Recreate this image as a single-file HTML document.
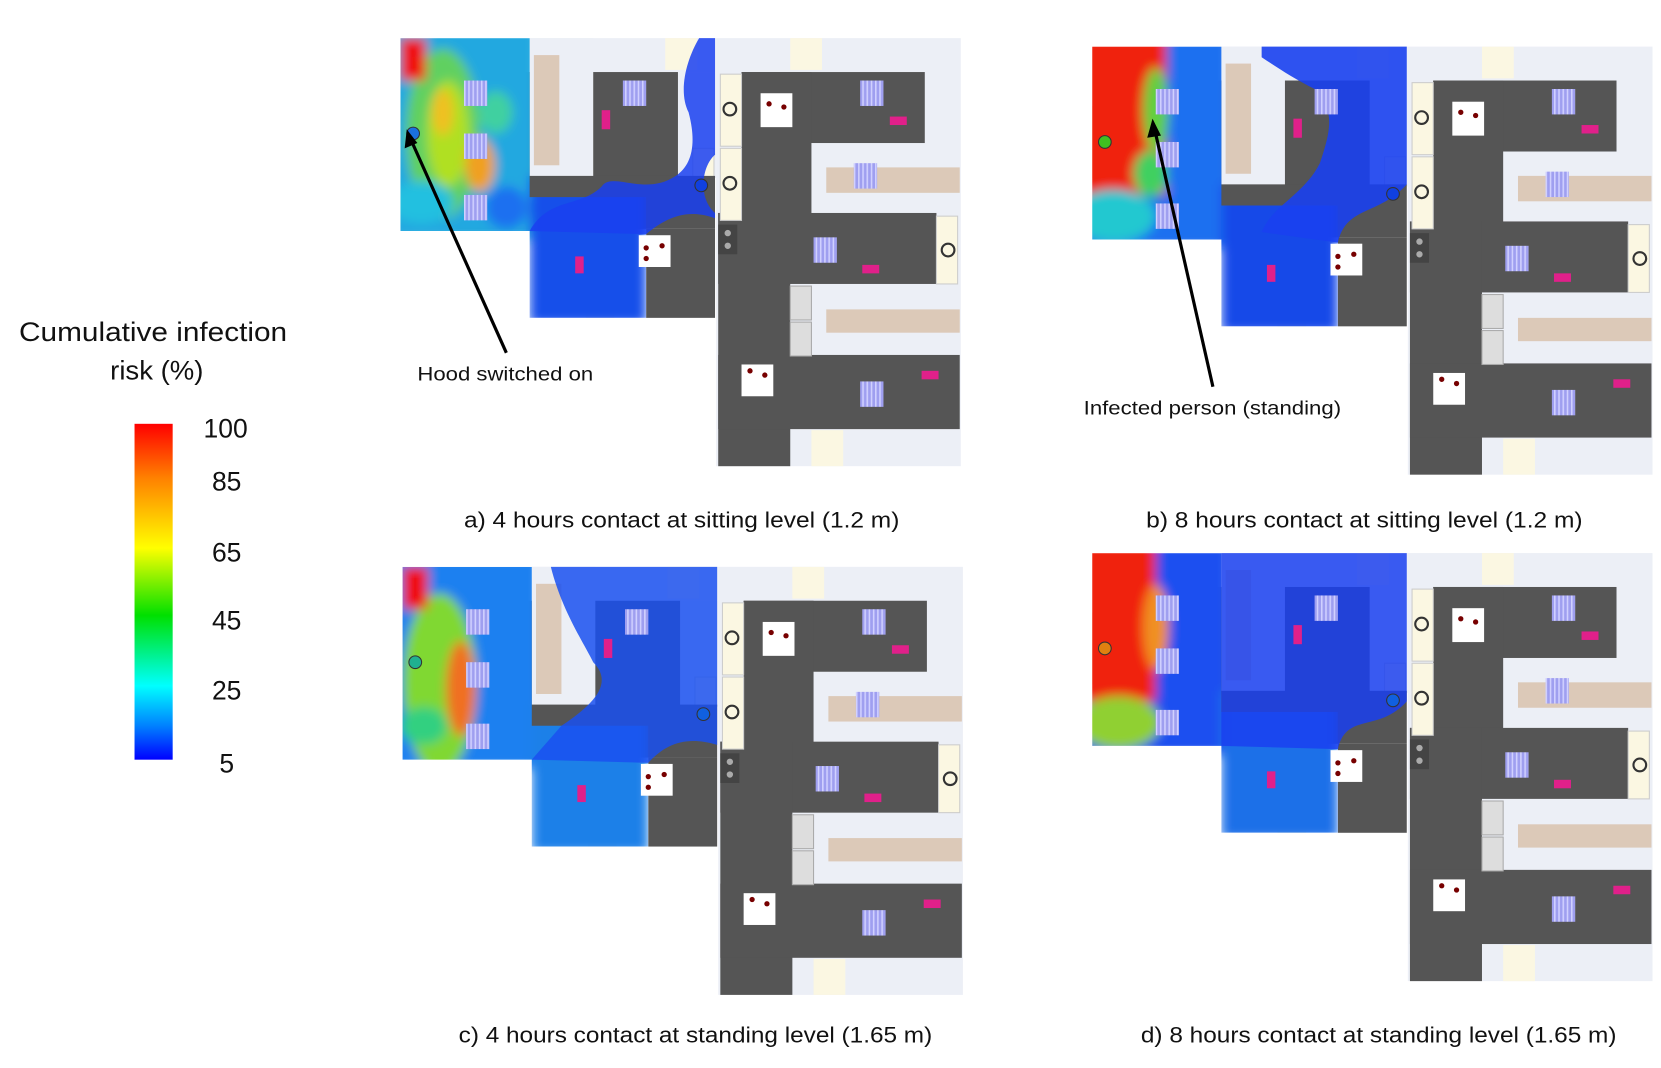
<!DOCTYPE html>
<html><head><meta charset="utf-8"><style>
html,body{margin:0;padding:0;background:#fff;}
body{width:1661px;height:1068px;overflow:hidden;}
svg{display:block}
text{font-family:"Liberation Sans",sans-serif;fill:#111}
</style></head><body>
<svg width="1661" height="1068" viewBox="0 0 1568 1008" preserveAspectRatio="none" xmlns="http://www.w3.org/2000/svg">
<defs>
<linearGradient id="cb" x1="0" y1="0" x2="0" y2="1">
<stop offset="0" stop-color="#ff0000"/><stop offset="0.16" stop-color="#ff8000"/>
<stop offset="0.37" stop-color="#ffff00"/><stop offset="0.57" stop-color="#00e000"/>
<stop offset="0.78" stop-color="#00ffff"/><stop offset="0.9" stop-color="#0080ff"/>
<stop offset="1" stop-color="#0000ff"/></linearGradient>
<filter id="bl" x="-20%" y="-20%" width="140%" height="140%"><feGaussianBlur stdDeviation="5"/></filter>
<pattern id="pur" width="4" height="10" patternUnits="userSpaceOnUse"><rect width="4" height="10" fill="#9f9ff0"/><rect width="1.5" height="10" fill="#d0d0ff"/></pattern>
<clipPath id="cl"><rect x="0" y="0" width="122" height="182"/><rect x="122" y="150" width="110" height="114"/></clipPath>
<g id="base">
<rect x="298" y="0" width="231" height="404" fill="#eceff6"/>
<rect x="122" y="0" width="176" height="32" fill="#eceff6"/>
<rect x="122" y="0" width="60" height="130" fill="#eceff6"/>
<rect x="262" y="32" width="36" height="100" fill="#eceff6"/>
<rect x="126" y="16" width="24" height="104" fill="#dcc9b8"/>
<rect x="250" y="0" width="30" height="30" fill="#fbf7e2"/>
<rect x="368" y="0" width="30" height="30" fill="#fbf7e2"/>
<rect x="322" y="32" width="173" height="67" fill="#555"/>
<rect x="322" y="32" width="66" height="140" fill="#555"/>
<rect x="300" y="165" width="206" height="67" fill="#555"/>
<rect x="300" y="165" width="68" height="239" fill="#555"/>
<rect x="300" y="299" width="228" height="70" fill="#555"/>
<rect x="402" y="122" width="126" height="24" fill="#dcc9b8"/>
<rect x="402" y="256" width="126" height="22" fill="#dcc9b8"/>
<rect x="368" y="234" width="20" height="32" fill="#ddd" stroke="#aaa"/>
<rect x="368" y="268" width="20" height="32" fill="#ddd" stroke="#aaa"/>
<rect x="388" y="370" width="30" height="34" fill="#fbf7e2"/>
<rect x="302" y="34" width="20" height="68" fill="#fbf7e2" stroke="#ccc"/>
<rect x="302" y="104" width="20" height="68" fill="#fbf7e2" stroke="#ccc"/>
<rect x="276" y="104" width="20" height="68" fill="#fbf7e2" stroke="#ccc"/>
<rect x="506" y="168" width="20" height="64" fill="#fbf7e2" stroke="#ccc"/>
<rect x="52" y="32" width="70" height="134" fill="#555"/>
<rect x="182" y="32" width="80" height="134" fill="#555"/>
<rect x="52" y="130" width="245" height="50" fill="#555"/>
<rect x="232" y="180" width="65" height="84" fill="#555"/>
<rect x="175" y="234" width="27" height="30" fill="#fbf7e2"/>
<rect x="0" y="56" width="22" height="68" fill="#fbf7e2"/>
</g>
<g id="furn">
<rect x="60" y="40" width="22" height="24" fill="url(#pur)"/>
<rect x="60" y="90" width="22" height="24" fill="url(#pur)"/>
<rect x="60" y="148" width="22" height="24" fill="url(#pur)"/>
<rect x="210" y="40" width="22" height="24" fill="url(#pur)"/>
<rect x="434" y="40" width="22" height="24" fill="url(#pur)"/>
<rect x="428" y="118" width="22" height="24" fill="url(#pur)"/>
<rect x="390" y="188" width="22" height="24" fill="url(#pur)"/>
<rect x="434" y="324" width="22" height="24" fill="url(#pur)"/>
<rect x="190" y="68" width="8" height="18" fill="#e0208a"/>
<rect x="462" y="74" width="16" height="8" fill="#e0208a"/>
<rect x="436" y="214" width="16" height="8" fill="#e0208a"/>
<rect x="492" y="314" width="16" height="8" fill="#e0208a"/>
<rect x="165" y="206" width="8" height="16" fill="#e0208a"/>
<rect x="340" y="52" width="30" height="32" fill="#fff"/><circle cx="348" cy="62" r="2.5" fill="#700"/><circle cx="362" cy="65" r="2.5" fill="#700"/>
<rect x="225" y="186" width="30" height="30" fill="#fff"/><circle cx="232" cy="198" r="2.5" fill="#700"/><circle cx="247" cy="196" r="2.5" fill="#700"/><circle cx="232" cy="208" r="2.5" fill="#700"/>
<rect x="322" y="308" width="30" height="30" fill="#fff"/><circle cx="330" cy="314" r="2.5" fill="#700"/><circle cx="344" cy="318" r="2.5" fill="#700"/>
<circle cx="311" cy="67" r="6" fill="none" stroke="#333" stroke-width="2"/>
<circle cx="311" cy="137" r="6" fill="none" stroke="#333" stroke-width="2"/>
<circle cx="517" cy="200" r="6" fill="none" stroke="#333" stroke-width="2"/>
<rect x="300" y="176" width="18" height="28" fill="#444"/><circle cx="309" cy="184" r="3" fill="#aaa"/><circle cx="309" cy="196" r="3" fill="#aaa"/>
</g>
</defs>

<!-- Legend -->
<text x="18" y="322" font-size="25" textLength="253" lengthAdjust="spacingAndGlyphs">Cumulative infection</text>
<text x="104" y="358" font-size="25" textLength="88" lengthAdjust="spacingAndGlyphs">risk (%)</text>
<rect x="127" y="400" width="36" height="317" fill="url(#cb)"/>
<g font-size="25" text-anchor="middle">
<text x="213" y="413">100</text><text x="214" y="463">85</text><text x="214" y="530">65</text>
<text x="214" y="594">45</text><text x="214" y="660">25</text><text x="214" y="729">5</text></g>

<!-- Panel a -->
<g transform="translate(378,36)">
<use href="#base"/>
<g clip-path="url(#cl)"><g filter="url(#bl)">
<rect x="-10" y="-10" width="140" height="200" fill="#20a8e0"/>
<rect x="122" y="130" width="110" height="140" fill="#1850ea"/>
<ellipse cx="40" cy="90" rx="35" ry="80" fill="#60d060"/>
<ellipse cx="45" cy="90" rx="20" ry="50" fill="#b0e020"/>
<ellipse cx="40" cy="70" rx="10" ry="22" fill="#f0c020"/>
<ellipse cx="75" cy="120" rx="14" ry="25" fill="#f0a020"/>
<ellipse cx="90" cy="70" rx="16" ry="20" fill="#40d0a0"/>
<ellipse cx="20" cy="155" rx="30" ry="20" fill="#20c0e0"/>
<ellipse cx="100" cy="160" rx="20" ry="20" fill="#1a70f0"/>
<rect x="0" y="0" width="24" height="40" fill="#f01010"/>
</g></g>
<path d="M122 182 C140 150 170 160 190 140 C200 125 230 150 260 130 C275 120 280 100 272 70 C262 50 270 20 282 0 L297 0 L297 110 C285 120 280 150 297 165 L297 170 C270 160 250 170 232 185 Z" fill="#1a40f0" opacity="0.85"/>
<use href="#furn"/>
<circle cx="12" cy="90" r="6" fill="#1a70e0" stroke="#333"/>
<circle cx="284" cy="139" r="6" fill="#1040e0" stroke="#333"/>
</g>

<!-- Panel b -->
<g transform="translate(1031,44)">
<use href="#base"/>
<g clip-path="url(#cl)"><g filter="url(#bl)">
<rect x="-10" y="-10" width="140" height="200" fill="#1a70f0"/>
<rect x="122" y="130" width="110" height="140" fill="#1848e8"/>
<rect x="-10" y="-10" width="80" height="150" fill="#f02010"/>
<ellipse cx="60" cy="60" rx="12" ry="40" fill="#60d040"/>
<ellipse cx="55" cy="120" rx="16" ry="22" fill="#40d060"/>
<ellipse cx="20" cy="160" rx="40" ry="25" fill="#20c8d0"/>
</g></g>
<path d="M160 0 L297 0 L297 130 C270 160 240 150 232 185 L160 175 C170 150 200 140 215 110 C225 80 230 60 210 40 C190 30 175 20 160 10 Z" fill="#1a40f0" opacity="0.9"/>
<use href="#furn"/>
<circle cx="12" cy="90" r="6" fill="#40c020" stroke="#333"/>
<circle cx="284" cy="139" r="6" fill="#1040e0" stroke="#333"/>
</g>

<!-- Panel c -->
<g transform="translate(380,535)">
<use href="#base"/>
<g clip-path="url(#cl)"><g filter="url(#bl)">
<rect x="-10" y="-10" width="140" height="200" fill="#1a80f0"/>
<rect x="122" y="130" width="110" height="140" fill="#1a80e8"/>
<ellipse cx="35" cy="110" rx="35" ry="85" fill="#80d830"/>
<ellipse cx="55" cy="115" rx="14" ry="45" fill="#f07020"/>
<ellipse cx="20" cy="150" rx="22" ry="18" fill="#30d080"/>
<rect x="0" y="0" width="24" height="40" fill="#f01010"/>
</g></g>
<path d="M140 0 C150 40 170 70 180 90 C200 110 180 130 150 150 L122 182 L232 185 C250 165 270 160 297 168 L297 0 Z" fill="#1a50f0" opacity="0.85"/>
<use href="#furn"/>
<circle cx="12" cy="90" r="6" fill="#20b090" stroke="#333"/>
<circle cx="284" cy="139" r="6" fill="#1060e0" stroke="#333"/>
</g>

<!-- Panel d -->
<g transform="translate(1031,522)">
<use href="#base"/>
<g clip-path="url(#cl)"><g filter="url(#bl)">
<rect x="-10" y="-10" width="140" height="200" fill="#1a50f0"/>
<rect x="122" y="130" width="110" height="140" fill="#1a70e8"/>
<rect x="-10" y="-10" width="70" height="150" fill="#f02010"/>
<ellipse cx="60" cy="70" rx="12" ry="40" fill="#f09020"/>
<ellipse cx="25" cy="160" rx="40" ry="25" fill="#90d030"/>
</g></g>
<path d="M122 0 L297 0 L297 140 C270 170 240 150 232 185 L122 182 Z M135 30 C150 20 160 40 140 60 Z" fill="#1a40f0" opacity="0.85"/>
<use href="#furn"/>
<circle cx="12" cy="90" r="6" fill="#e08010" stroke="#333"/>
<circle cx="284" cy="139" r="6" fill="#1060e0" stroke="#333"/>
</g>

<!-- Annotations -->
<line x1="478" y1="333" x2="388" y2="132" stroke="#000" stroke-width="3"/>
<polygon points="384,122 382,140 394,135" fill="#000"/>
<text x="394" y="359" font-size="18" textLength="166" lengthAdjust="spacingAndGlyphs">Hood switched on</text>
<line x1="1145" y1="365" x2="1090" y2="122" stroke="#000" stroke-width="3"/>
<polygon points="1088,112 1083,130 1096,128" fill="#000"/>
<text x="1023" y="391" font-size="18" textLength="243" lengthAdjust="spacingAndGlyphs">Infected person (standing)</text>

<g font-size="21">
<text x="438" y="498" textLength="411" lengthAdjust="spacingAndGlyphs">a) 4 hours contact at sitting level (1.2 m)</text>
<text x="1082" y="498" textLength="412" lengthAdjust="spacingAndGlyphs">b) 8 hours contact at sitting level (1.2 m)</text>
<text x="433" y="984" textLength="447" lengthAdjust="spacingAndGlyphs">c) 4 hours contact at standing level (1.65 m)</text>
<text x="1077" y="984" textLength="449" lengthAdjust="spacingAndGlyphs">d) 8 hours contact at standing level (1.65 m)</text>
</g>
</svg>
</body></html>
